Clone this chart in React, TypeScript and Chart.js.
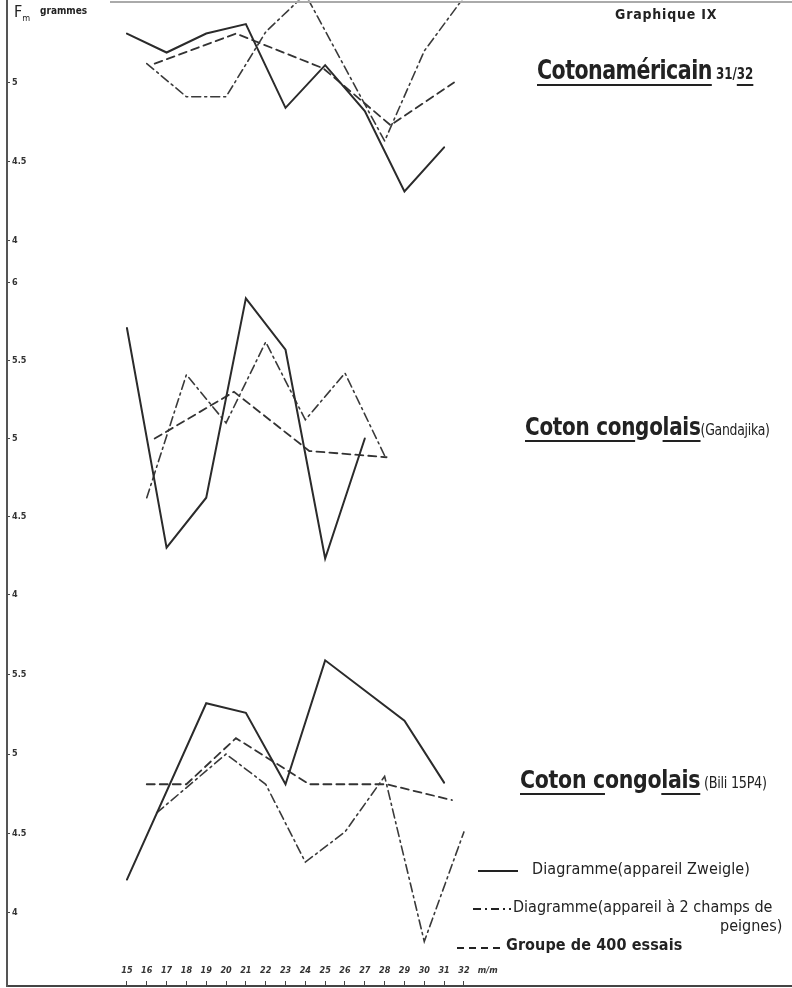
import React, { useEffect, useRef } from "react";
import { Chart, registerables } from "chart.js";

Chart.register(...registerables);

// ---------- Axis ticks ----------
const xTickValues = [15, 16, 17, 18, 19, 20, 21, 22, 23, 24, 25, 26, 27, 28, 29, 30, 31, 32];
const xUnitLabel = "m/m";
const xUnitValue = 33.2;
const xRange = [8.95, 48.55];

const y1Ticks = [4, 4.5, 5];
const y1Range = [3.9, 5.52];
const y2Ticks = [4, 4.5, 5, 5.5, 6];
const y2Range = [3.77, 6.17];
const y3Ticks = [4, 4.5, 5, 5.5];
const y3Range = [3.54, 5.78];

// ---------- Panel 1 : Coton américain 31/32 ----------
const p1ZweigleX = [15, 17, 19, 21, 23, 25, 27, 29, 31];
const p1ZweigleY = [5.31, 5.19, 5.31, 5.37, 4.84, 5.11, 4.82, 4.31, 4.59];
const p1PeignesX = [16, 18, 20, 22, 24, 28, 30, 32];
const p1PeignesY = [5.12, 4.91, 4.91, 5.32, 5.56, 4.63, 5.2, 5.54];
const p1GroupeX = [16.4, 20.5, 24.9, 28.3, 31.5];
const p1GroupeY = [5.12, 5.31, 5.09, 4.73, 5.0];

// ---------- Panel 2 : Coton congolais (Gandajika) ----------
const p2ZweigleX = [15, 17, 19, 21, 23, 25, 27];
const p2ZweigleY = [5.71, 4.3, 4.62, 5.9, 5.57, 4.23, 5.0];
const p2PeignesX = [16, 18, 20, 22, 24, 26, 28];
const p2PeignesY = [4.62, 5.41, 5.1, 5.62, 5.12, 5.42, 4.89];
const p2GroupeX = [16.4, 20.4, 24.2, 28.1];
const p2GroupeY = [5.0, 5.3, 4.92, 4.88];

// ---------- Panel 3 : Coton congolais (Bili 15P4) ----------
const p3ZweigleX = [15, 19, 21, 23, 25, 29, 31];
const p3ZweigleY = [4.21, 5.32, 5.26, 4.81, 5.59, 5.21, 4.82];
const p3PeignesX = [16.5, 20, 22, 24, 26, 28, 30, 32];
const p3PeignesY = [4.63, 5.0, 4.81, 4.32, 4.51, 4.86, 3.82, 4.51];
const p3GroupeX = [16, 18, 20.5, 24.2, 28.1, 31.4];
const p3GroupeY = [4.81, 4.81, 5.1, 4.81, 4.81, 4.71];

const seriesNames = [
  "Diagramme(appareil Zweigle)",
  "Diagramme(appareil à 2 champs de peignes)",
  "Groupe de 400 essais",
];

const INK = "#2b2b2b";
const HAND = "'DejaVu Sans Condensed', 'DejaVu Sans', sans-serif";

const styles = [
  { borderColor: INK, borderWidth: 2, borderDash: [] as number[] },
  { borderColor: "#3a3a3a", borderWidth: 1.6, borderDash: [9, 4, 2, 4] },
  { borderColor: "#333", borderWidth: 1.8, borderDash: [8, 5] },
];

function pts(xs: number[], ys: number[]) {
  return xs.map((x, i) => ({ x, y: ys[i] }));
}

function ds(name: string, panel: string, xs: number[], ys: number[], axis: string, s: number) {
  return {
    label: `${name} – ${panel}`,
    data: pts(xs, ys),
    yAxisID: axis,
    xAxisID: "x",
    fill: false,
    pointRadius: 0,
    tension: 0,
    borderCapStyle: "round" as const,
    ...styles[s],
  };
}

function yScale(range: number[], ticks: number[], weight: number, height: number) {
  return {
    type: "linear" as const,
    position: "left" as const,
    stack: "panels",
    stackWeight: height,
    weight,
    min: range[0],
    max: range[1],
    afterBuildTicks: (s: any) => {
      s.ticks = ticks.map((v) => ({ value: v }));
    },
    ticks: {
      mirror: true,
      padding: 5,
      color: "#333",
      font: { size: 9, family: HAND, weight: "bold" as const },
      callback: (v: any) => String(v),
    },
    grid: { drawOnChartArea: false, tickLength: -3, color: "#444", lineWidth: 1 },
    border: { display: true, color: "#555", width: 2 },
  };
}

function ChartCanvas() {
  const ref = useRef<HTMLCanvasElement | null>(null);
  useEffect(() => {
    if (!ref.current) return;
    const chart = new Chart(ref.current, {
      type: "line",
      data: {
        datasets: [
          ds(seriesNames[0], "Coton américain", p1ZweigleX, p1ZweigleY, "y1", 0),
          ds(seriesNames[1], "Coton américain", p1PeignesX, p1PeignesY, "y1", 1),
          ds(seriesNames[2], "Coton américain", p1GroupeX, p1GroupeY, "y1", 2),
          ds(seriesNames[0], "Gandajika", p2ZweigleX, p2ZweigleY, "y2", 0),
          ds(seriesNames[1], "Gandajika", p2PeignesX, p2PeignesY, "y2", 1),
          ds(seriesNames[2], "Gandajika", p2GroupeX, p2GroupeY, "y2", 2),
          ds(seriesNames[0], "Bili 15P4", p3ZweigleX, p3ZweigleY, "y3", 0),
          ds(seriesNames[1], "Bili 15P4", p3PeignesX, p3PeignesY, "y3", 1),
          ds(seriesNames[2], "Bili 15P4", p3GroupeX, p3GroupeY, "y3", 2),
        ],
      },
      options: {
        animation: false,
        responsive: false,
        maintainAspectRatio: false,
        devicePixelRatio: 1,
        layout: { padding: 0 },
        plugins: { legend: { display: false }, tooltip: { enabled: false } },
        scales: {
          x: {
            type: "linear",
            position: "bottom",
            min: xRange[0],
            max: xRange[1],
            afterBuildTicks: (s: any) => {
              s.ticks = [...xTickValues, xUnitValue].map((v) => ({ value: v }));
            },
            ticks: {
              mirror: true,
              padding: 10,
              autoSkip: false,
              maxRotation: 0,
              minRotation: 0,
              color: "#333",
              font: { size: 9, family: HAND, weight: "bold", style: "italic" },
              callback: (v: any) => (v === xUnitValue ? xUnitLabel : String(v)),
            },
            grid: {
              drawOnChartArea: false,
              tickLength: -5,
              lineWidth: 1,
              color: (c: any) => (c.tick && c.tick.value > 32.5 ? "rgba(0,0,0,0)" : "#444"),
            },
            border: { display: true, color: "#444", width: 2 },
          },
          y3: yScale(y3Range, y3Ticks, 1, 356),
          y2: yScale(y2Range, y2Ticks, 2, 374),
          y1: yScale(y1Range, y1Ticks, 3, 256),
        } as any,
      },
    });
    return () => chart.destroy();
  }, []);
  return (
    <canvas
      ref={ref}
      width={792}
      height={1011}
      style={{ position: "absolute", left: 0, top: -10 }}
    />
  );
}

const abs = (l: number, t: number, extra: React.CSSProperties = {}): React.CSSProperties => ({
  position: "absolute",
  left: l,
  top: t,
  whiteSpace: "nowrap",
  lineHeight: 1,
  color: "#222",
  fontFamily: HAND,
  ...extra,
});

const ul: React.CSSProperties = { textDecoration: "underline", textDecorationThickness: 2, textUnderlineOffset: 5 };

function Sample({ dash, width }: { dash: string; width: number }) {
  return (
    <svg width={width} height={6} style={{ display: "block" }}>
      <line x1={0} y1={3} x2={width} y2={3} stroke="#222" strokeWidth={2} strokeDasharray={dash} />
    </svg>
  );
}

export default function App() {
  return (
    <div
      style={{
        position: "absolute",
        left: 0,
        top: 0,
        width: 792,
        height: 988,
        overflow: "hidden",
        background: "#fff",
      }}
    >
      <ChartCanvas />
      {/* top frame edge */}
      <div style={{ position: "absolute", left: 110, top: 1, width: 682, height: 2, background: "#aaa" }} />

      {/* axis title */}
      <div style={abs(14, 4, { fontSize: 16 })}>
        F<span style={{ fontSize: 9, position: "relative", top: 4 }}>m</span>
      </div>
      <div style={abs(40, 6, { fontSize: 10, fontWeight: "bold" })}>grammes</div>

      {/* titles */}
      <div style={abs(615, 7, { fontSize: 14, fontWeight: "bold", letterSpacing: 0.8 })}>Graphique IX</div>
      <div
        style={abs(537, 57, {
          fontSize: 26,
          fontWeight: 600,
          letterSpacing: -0.6,
          transform: "scaleX(0.88)",
          transformOrigin: "left top",
        })}
      >
        <span style={ul}>Cotonaméricain</span>
        <span style={{ fontSize: 15, fontWeight: "bold", letterSpacing: 0 }}>
          {"  31/"}
          <span style={ul}>32</span>
        </span>
      </div>
      <div
        style={abs(525, 415, {
          fontSize: 24,
          fontWeight: 600,
          letterSpacing: -0.3,
          transform: "scaleX(0.925)",
          transformOrigin: "left top",
        })}
      >
        <span style={ul}>Coton con</span>go<span style={ul}>lais</span>
        <span style={{ fontSize: 15, fontWeight: "normal" }}>(Gandajika)</span>
      </div>
      <div
        style={abs(520, 768, {
          fontSize: 24,
          fontWeight: 600,
          letterSpacing: -0.3,
          transform: "scaleX(0.95)",
          transformOrigin: "left top",
        })}
      >
        <span style={ul}>Coton c</span>ongo<span style={ul}>lais</span>
        <span style={{ fontSize: 15, fontWeight: "normal" }}> (Bili 15P4)</span>
      </div>

      {/* legend */}
      <div style={{ position: "absolute", left: 478, top: 868 }}>
        <Sample dash="" width={40} />
      </div>
      <div style={abs(532, 861, { fontSize: 16, letterSpacing: 0.1 })}>{seriesNames[0]}</div>

      <div style={{ position: "absolute", left: 473, top: 906 }}>
        <Sample dash="8 4 2 4" width={38} />
      </div>
      <div style={abs(513, 899, { fontSize: 16 })}>Diagramme(appareil à 2 champs de</div>
      <div style={abs(720, 918, { fontSize: 16 })}>peignes)</div>

      <div style={{ position: "absolute", left: 457, top: 945 }}>
        <Sample dash="7 5" width={44} />
      </div>
      <div style={abs(506, 937, { fontSize: 16, fontWeight: "bold", letterSpacing: 0.1 })}>{seriesNames[2]}</div>
    </div>
  );
}
